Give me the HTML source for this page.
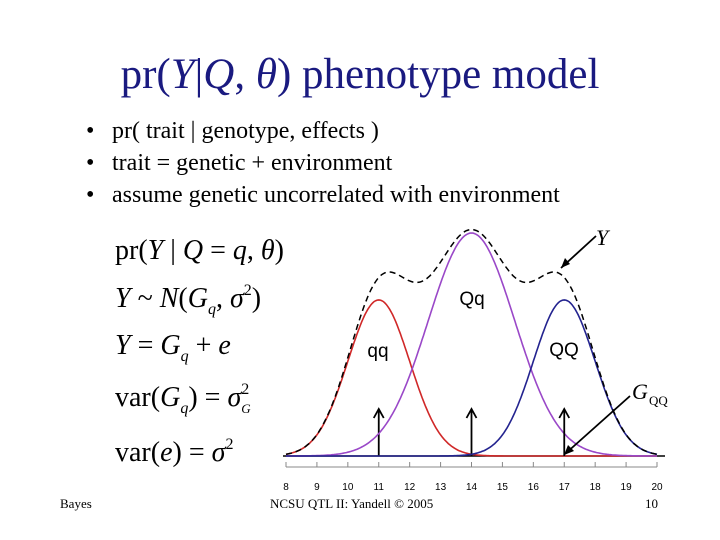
<!DOCTYPE html>
<html><head><meta charset="utf-8"><style>
body{margin:0;background:#fff}
#s{position:relative;width:720px;height:540px;overflow:hidden;font-family:"Liberation Serif",serif}
.t{position:absolute;white-space:nowrap}
.f{position:absolute;left:115px;white-space:nowrap;font-size:28px;line-height:30px;height:30px}
.sb{font-size:16px;position:relative;top:7px;vertical-align:baseline;line-height:0}
.sp{font-size:16px;position:relative;top:-12px;vertical-align:baseline;line-height:0}
.b{position:absolute;white-space:nowrap;font-size:24px;left:112px}
.bd{position:absolute;left:86px;font-size:24px}
</style></head><body>
<div id="s">
<div class="t" style="left:0;width:720px;text-align:center;top:50px;font-size:43px;color:#1a1a80">pr(<i>Y</i>|<i>Q</i>, <i>θ</i>) phenotype model</div>
<div class="bd" style="top:118px">•</div>
<div class="bd" style="top:150px">•</div>
<div class="bd" style="top:182px">•</div>
<div class="b" style="top:118px">pr( trait | genotype, effects )</div>
<div class="b" style="top:150px">trait = genetic + environment</div>
<div class="b" style="top:182px">assume genetic uncorrelated with environment</div>
<div class="f" style="top:236px">pr(<i>Y</i> | <i>Q</i> = <i>q</i>, <i>θ</i>)</div>
<div class="f" style="top:284px"><i>Y</i> ~ <i>N</i>(<i>G<span class="sb">q</span></i>, <i>σ</i><span class="sp">2</span>)</div>
<div class="f" style="top:331px"><i>Y</i> = <i>G<span class="sb">q</span></i> + <i>e</i></div>
<div class="f" style="top:383px">var(<i>G<span class="sb">q</span></i>) = <i>σ</i><span class="sp">2</span><span class="sb" style="font-size:13px;margin-left:-8px"><i>G</i></span></div>
<div class="f" style="top:438px">var(<i>e</i>) = <i>σ</i><span class="sp">2</span></div>
<div class="t" style="left:60px;top:496px;font-size:13px">Bayes</div>
<div class="t" style="left:270px;top:496px;font-size:13px">NCSU QTL II: Yandell © 2005</div>
<div class="t" style="left:645px;top:496px;font-size:13px">10</div>
<svg id="c" width="720" height="540" style="position:absolute;left:0;top:0"></svg>
</div>
<script>
const ticks=[8,9,10,11,12,13,14,15,16,17,18,19,20];
const means=[11,14,17];
const sds=[1,1.4,1];
const amps=[0.7,1.0,0.7];
const names=['qq','Qq','QQ'];
const colors=['#d02828','#9a48c8','#23238f'];
const X=v=>286+(v-8)*(371/12);
const Y=d=>456-d*223;
const svg=document.getElementById('c');
const NS='http://www.w3.org/2000/svg';
function mk(t,a){const e=document.createElementNS(NS,t);for(const k in a)e.setAttribute(k,a[k]);svg.appendChild(e);return e;}
const f=(i,x)=>amps[i]*Math.exp(-((x-means[i])**2)/(2*sds[i]*sds[i]));
let bl=mk('line',{x1:283,x2:665,y1:456,y2:456,stroke:'#000','stroke-width':1.5});

let ax=mk('line',{x1:X(8),x2:X(20),y1:467,y2:467,stroke:'#888','stroke-width':1});

ticks.forEach(t=>{
 let l=mk('line',{x1:X(t),x2:X(t),y1:462,y2:467,stroke:'#888'});
 
 let tx=mk('text',{x:X(t),y:490,'text-anchor':'middle','font-size':10,'font-family':'Liberation Sans, sans-serif'});
 tx.textContent=t;
 
});
means.forEach((m,i)=>{
 let d='';for(let x=8;x<=20.001;x+=0.05){const xx=X(x),yy=Y(f(i,x));d+=(d?'L':'M')+xx.toFixed(1)+','+yy.toFixed(1);}
 let p=mk('path',{d,fill:'none',stroke:colors[i],'stroke-width':1.6});
 
 let a=mk('line',{x1:X(m),x2:X(m),y1:456,y2:410,stroke:'#000','stroke-width':1.8});
 
 let h=mk('path',{d:`M${X(m)-5},${418}L${X(m)},${409}L${X(m)+5},${418}`,fill:'none',stroke:'#000','stroke-width':1.8});
 
});
let d='';for(let x=8;x<=20.001;x+=0.05){let s=0;for(let i=0;i<3;i++)s+=f(i,x);d+=(d?'L':'M')+X(x).toFixed(1)+','+Y(s).toFixed(1);}
let dp=mk('path',{d,fill:'none',stroke:'#000','stroke-width':1.5,'stroke-dasharray':'6,4'});

const labs=[['qq',378,357],['Qq',472,305],['QQ',564,356]];
labs.forEach(l=>{let t=mk('text',{x:l[1],y:l[2],'text-anchor':'middle','font-size':19,'font-family':'Liberation Sans, sans-serif'});t.textContent=l[0];
 });
let yl=mk('text',{x:596,y:245,'font-size':22,'font-style':'italic','font-family':'Liberation Serif, serif'});yl.textContent='Y';

let y1=mk('line',{x1:596,x2:561,y1:236,y2:268,stroke:'#000','stroke-width':1.8});

mk('path',{d:'M561,268l4,-10l5,6z',fill:'#000'});
let gl=mk('text',{x:632,y:399,'font-size':22,'font-style':'italic','font-family':'Liberation Serif, serif'});gl.textContent='G';

let gs=mk('text',{x:649,y:405,'font-size':13,'font-family':'Liberation Serif, serif'});gs.textContent='QQ';

let g1=mk('line',{x1:630,x2:565,y1:396,y2:454,stroke:'#000','stroke-width':1.8});

mk('path',{d:'M564,455l4,-10l6,6z',fill:'#000'});
</script>
</body></html>
